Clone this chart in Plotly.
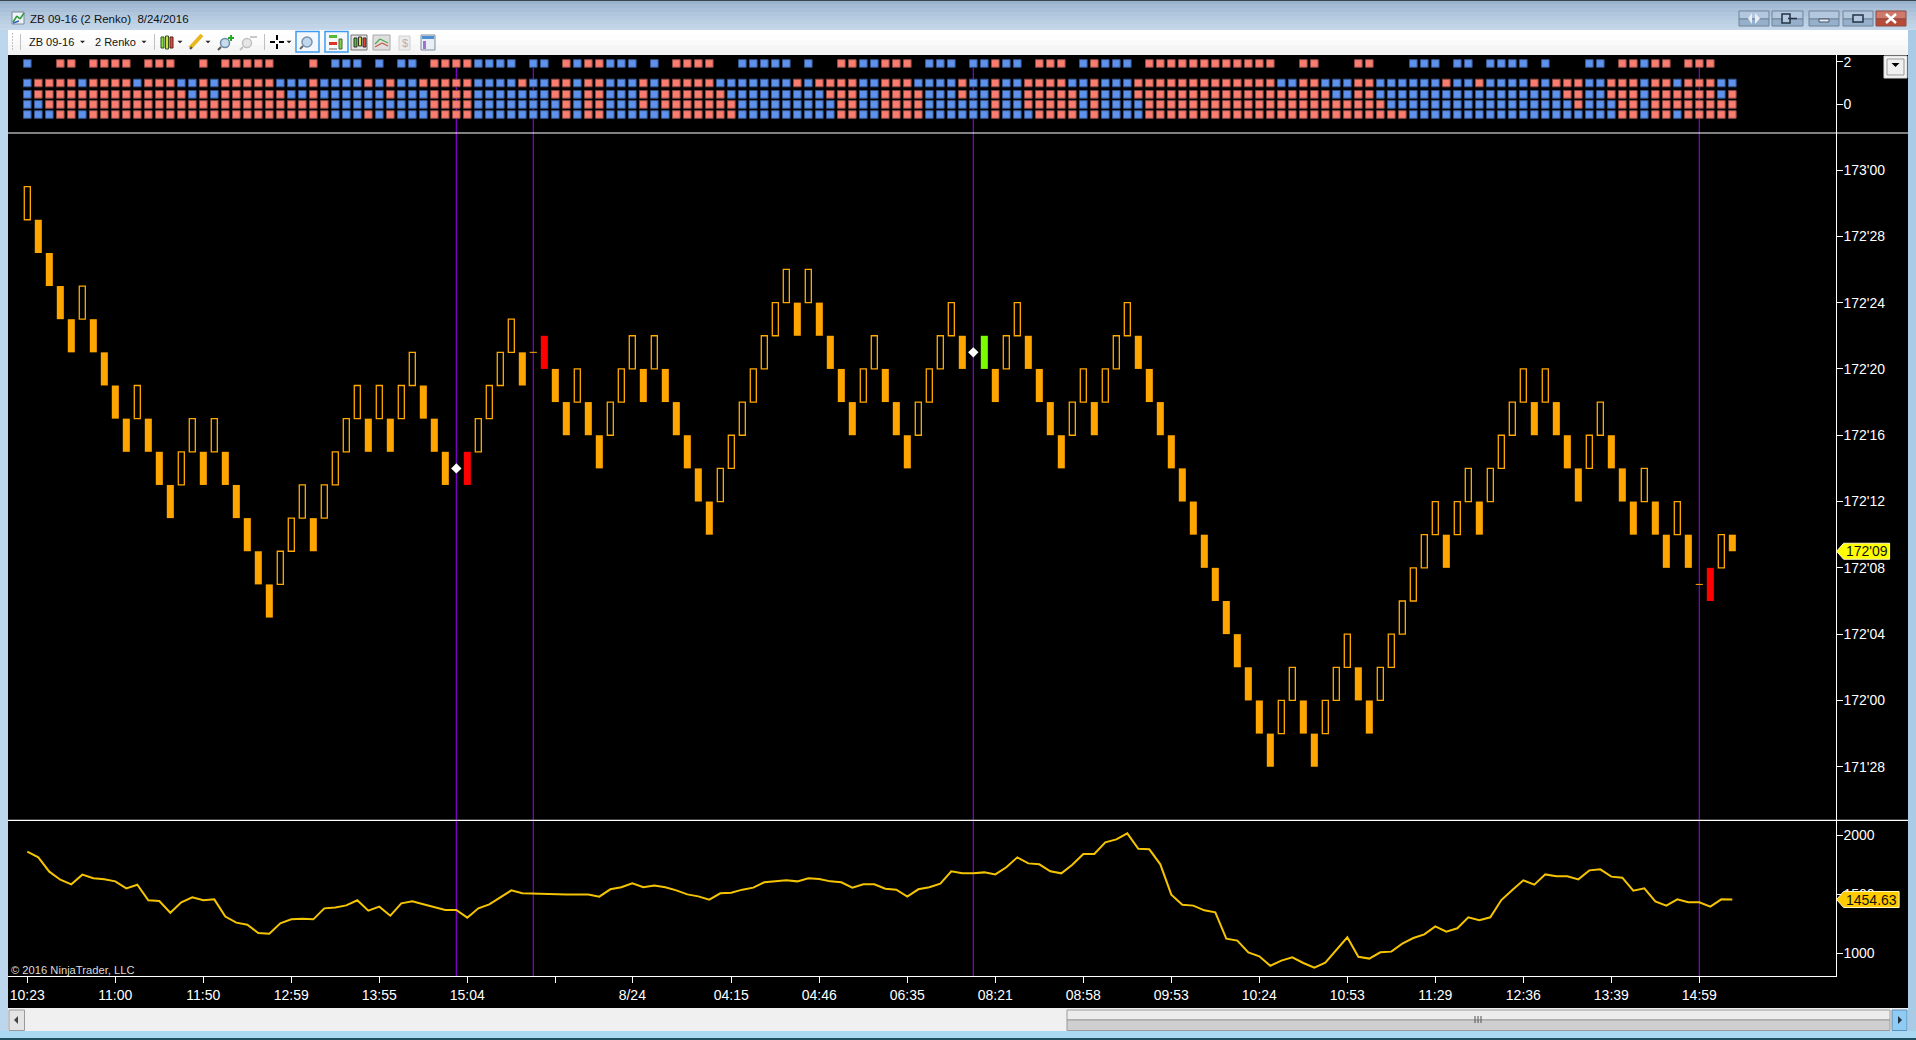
#imports
import plotly.graph_objects as go
from plotly.subplots import make_subplots

W = 1916
H = 1040
FONT = "Liberation Sans"

# bar numbers along the time axis
bars = list(range(156))

# renko bars, in 32nds below 173'00 (top and bottom of each body)
bar_top = [1, 3, 5, 7, 9, 7, 9, 11, 13, 15, 13, 15, 17, 19, 17, 15, 17, 15, 17, 19,
           21, 23, 25, 23, 21, 19, 21, 19, 17, 15, 13, 15, 13, 15, 13, 11, 13, 15, 17, 18,
           17, 15, 13, 11, 9, 11, 11, 10, 12, 14, 12, 14, 16, 14, 12, 10, 12, 10, 12, 14,
           16, 18, 20, 18, 16, 14, 12, 10, 8, 6, 8, 6, 8, 10, 12, 14, 12, 10, 12, 14,
           16, 14, 12, 10, 8, 10, 11, 10, 12, 10, 8, 10, 12, 14, 16, 14, 12, 14, 12, 10,
           8, 10, 12, 14, 16, 18, 20, 22, 24, 26, 28, 30, 32, 34, 32, 30, 32, 34, 32, 30,
           28, 30, 32, 30, 28, 26, 24, 22, 20, 22, 20, 18, 20, 18, 16, 14, 12, 14, 12, 14,
           16, 18, 16, 14, 16, 18, 20, 18, 20, 22, 20, 22, 25, 24, 22, 22]
bar_bottom = [3, 5, 7, 9, 11, 9, 11, 13, 15, 17, 15, 17, 19, 21, 19, 17, 19, 17, 19, 21,
              23, 25, 27, 25, 23, 21, 23, 21, 19, 17, 15, 17, 15, 17, 15, 13, 15, 17, 19, 18,
              19, 17, 15, 13, 11, 13, 11, 12, 14, 16, 14, 16, 18, 16, 14, 12, 14, 12, 14, 16,
              18, 20, 22, 20, 18, 16, 14, 12, 10, 8, 10, 8, 10, 12, 14, 16, 14, 12, 14, 16,
              18, 16, 14, 12, 10, 12, 11, 12, 14, 12, 10, 12, 14, 16, 18, 16, 14, 16, 14, 12,
              10, 12, 14, 16, 18, 20, 22, 24, 26, 28, 30, 32, 34, 36, 34, 32, 34, 36, 34, 32,
              30, 32, 34, 32, 30, 28, 26, 24, 22, 24, 22, 20, 22, 20, 18, 16, 14, 16, 14, 16,
              18, 20, 18, 16, 18, 20, 22, 20, 22, 24, 22, 24, 25, 26, 24, 23]
# h hollow, f filled, r red, g green, d doji dash, w doji with white diamond
bar_kind = ("hffffhffffhfffhhfhfffffhhhfhhhhfhfhhfff" "wrhhhhfdr"
            "ffhffhhhfhfffffhhhhhhhfhffffhhfffhhhhf" "wg"
            "fhhffffhhfhhhfffffffffffff" "hhffhhhffhhhhhhfhhfhhhhfhfffhhfffhffhf" "drhf")

# rows of the top strip: r red square, b blue square, space = nothing
row_values = [1.93, 1.0, 0.46, -0.02, -0.5]
row_a = ("b  rr rrrr rrr  r rrrrr   r b" "bb b bb rrrrbbbb bb rbrrbbb b"
         " rrrr  bbbbb b  rrbbrrr bbb bbrbb rrr brbbb "
         "rrrrrrrrrrrr  rr   rr   bbb bb bbbb b   bb rrbrr rrr  ")
row_b = ("brrrrbrrrrbrrrbbrbrrrrrbbbrbb" "bbrbrbbrrrrrbbbbrbbrrbrrbbbrb"
         "rrrrrbbbbbbbrbrrrrbbrrrbbbbrbbrbbrrrrbbrbbbr"
         "rrrrrrrrrrrrbbrrbbbrrbbbbbbrbbrbbbbrbrrrbbrrrbrrbrrrbb")
row_c = ("brrrrrrrrrrrrrrbrbrrrrrrbbrbb" "bbbbrbbbrrrrbbbbbbbrrbrrbbbrb"
         "rrrrrrbbbbbbbbbrrrbbrrrrbbbrbbrbbrrrrrbrbbbr"
         "rrrrrrrrrrrrrrrrrbbrrbbbbbbbbbbbbbbbbbrrbbrrrbrrrrrrbr")
row_d = ("bbrrrrrrrrrrrrrrrrrrrrrrrrrrb" "bbbbbbbbrrrrbbbbbbbbrbrrbbbrb"
         "rrrrrrrbbbbbbbbbrrbbrrrrbbbbbbrbbrrrrrbrbbbb"
         "rrrrrrrrrrrrrrrrrrrrrrbbbbbbbbbbbbbbbbbrbbbrrbrrrrrrrr")
row_e = ("bbbrrbrrrrrrrrrrrrrrrrrrrrrrb" "bbrbrbbbrrrrbbbbbbbbrbrrbbbbb"
         "brrrrrrbbbbbbbbbrrbbrrrrbbbbbbrbbbrrrrbrbbbb"
         "rrrrrrrrrrrrrrrrrrrrrrrrbbbbbbbbbbbbbbbbbbbrrbrrbrrrrr")
rows = [row_a, row_b, row_c, row_d, row_e]

# indicator line, one value a bar
volume_line = [1859, 1811, 1690, 1622, 1583, 1665, 1634, 1625, 1608, 1549, 1580, 1448, 1442, 1343, 1431, 1473,
               1448, 1456, 1310, 1259, 1242, 1171, 1166, 1253, 1287, 1293, 1287, 1380, 1388, 1405, 1448, 1360,
               1394, 1318, 1422, 1439, 1414, 1388, 1366, 1366, 1301, 1380, 1414, 1473, 1532, 1507, 1504, 1496,
               1496, 1496, 1496, 1496, 1479, 1541, 1558, 1591, 1558, 1572, 1558, 1532, 1498, 1481, 1453, 1507,
               1512, 1538, 1555, 1600, 1608, 1617, 1608, 1634, 1628, 1608, 1600, 1555, 1583, 1583, 1546, 1538,
               1479, 1541, 1558, 1589, 1693, 1676, 1676, 1684, 1667, 1727, 1811, 1760, 1752, 1693, 1676, 1749,
               1839, 1839, 1938, 1963, 2014, 1884, 1879, 1752, 1496, 1411, 1403, 1363, 1346, 1124, 1107, 1008,
               974, 895, 938, 966, 918, 878, 921, 1028, 1135, 971, 955, 1008, 1014, 1081, 1129, 1160,
               1228, 1183, 1211, 1304, 1279, 1304, 1450, 1535, 1617, 1580, 1667, 1651, 1651, 1625, 1701, 1710,
               1648, 1639, 1529, 1549, 1439, 1403, 1456, 1431, 1431, 1394, 1456, 1454.63]

# axis ticks
time_ticks = [0, 8, 16, 24, 32, 40, 48, 55, 64, 72, 80, 88, 96, 104, 112, 120, 128, 136, 144, 152]
time_labels = ["10:23", "11:00", "11:50", "12:59", "13:55", "15:04", "", "8/24", "04:15", "04:46",
               "06:35", "08:21", "08:58", "09:53", "10:24", "10:53", "11:29", "12:36", "13:39", "14:59"]
price_ticks = [0, 4, 8, 12, 16, 20, 24, 28, 32, 36]
price_labels = ["173'00", "172'28", "172'24", "172'20", "172'16", "172'12", "172'08", "172'04", "172'00", "171'28"]
session_bars = [39, 46, 86, 152]


def px(x):
    return x / W


def py(y):
    return 1 - y / H


def to_price(off):
    return 5536 - off


shapes = []
notes = []


def rect(x0, y0, x1, y1, fill, line=None, width=1, layer="below"):
    shapes.append(dict(type="rect", xref="paper", yref="paper", x0=px(x0), x1=px(x1), y0=py(y0), y1=py(y1),
                       fillcolor=fill, line=dict(color=line or fill, width=width if line else 0), layer=layer))


def seg(x0, y0, x1, y1, color, width=1, layer="below"):
    shapes.append(dict(type="line", xref="paper", yref="paper", x0=px(x0), x1=px(x1), y0=py(y0), y1=py(y1),
                       line=dict(color=color, width=width), layer=layer))


def tri(x, y, s=3, color="#222222"):
    path = f"M {px(x - s)} {py(y - s / 2)} L {px(x + s)} {py(y - s / 2)} L {px(x)} {py(y + s / 2)} Z"
    shapes.append(dict(type="path", xref="paper", yref="paper", path=path, fillcolor=color,
                       line=dict(width=0), layer="below"))


def poly(points, color):
    path = "M " + " L ".join(f"{px(a)} {py(b)}" for a, b in points) + " Z"
    shapes.append(dict(type="path", xref="paper", yref="paper", path=path, fillcolor=color,
                       line=dict(width=0), layer="below"))


def circle(x, y, r, color, fill="rgba(0,0,0,0)", width=1.5):
    shapes.append(dict(type="circle", xref="paper", yref="paper", x0=px(x - r), x1=px(x + r), y0=py(y - r),
                       y1=py(y + r), line=dict(color=color, width=width), fillcolor=fill, layer="below"))


def text(x, y, s, size=12, color="#111111", anchor="left"):
    notes.append(dict(xref="paper", yref="paper", x=px(x), y=py(y), text=s, showarrow=False, xanchor=anchor,
                      yanchor="middle", font=dict(family=FONT, size=size, color=color)))


# window frame
title_colors = ["#9ab3cd", "#a2bad3", "#a9c0d8", "#b0c6dc", "#b6cbe0", "#bcd0e4", "#c1d4e7", "#c5d7e9"]
for n, c in enumerate(title_colors):
    rect(0, n * 4, W, n * 4 + 4, c)
seg(0, 0.5, W, 0.5, "#3a4450", 1)
rect(0, 30, 8, 1040, "#bcd6ee")
rect(1908, 30, W, 1040, "#a9cbe6")
rect(0, 1031, W, 1040, "#a8d8f2")
seg(0, 1039, W, 1039, "#20505f", 2)
# toolbar
for n, c in enumerate(["#ffffff", "#fdfdfd", "#fafafa", "#f6f6f6", "#f2f2f2"]):
    rect(8, 30 + n * 5, 1908, 35 + n * 5, c)
# chart background and scrollbar
rect(8, 55, 1908, 1008, "#000000")
rect(8, 1008, 1908, 1031, "#f0f0f0")
rect(9, 1010, 24.5, 1030.5, "#e4e4e4", "#9a9a9a")
poly([(18, 1016), (18, 1024), (14, 1020)], "#444444")
rect(1067, 1010, 1890, 1020, "#ececec", "#9a9a9a")
rect(1067, 1020, 1890, 1030.5, "#cfcfcf", "#9a9a9a")
for gx in [1475, 1478, 1481]:
    seg(gx, 1016, gx, 1023, "#555555", 1)
rect(1892, 1010, 1907, 1030.5, "#8fcbf2", "#5a90b8")
poly([(1898, 1016), (1898, 1024), (1902, 1020)], "#223344")
# drop down box on the chart corner
rect(1884, 56, 1907, 78, "#f4f4f4", "#d8d8d8")
rect(1887, 59, 1904, 75, "#f0f0f0", "#999999")
tri(1895.5, 65, 4, "#000000")

# window buttons
for bx0, bx1 in [(1739, 1769), (1772, 1803), (1809, 1839), (1843, 1873)]:
    rect(bx0, 11, bx1, 19, "#b3c8de", "#6f8298")
    rect(bx0, 19, bx1, 26, "#96b0cc", "#6f8298")
rect(1876, 11, 1906, 19, "#d0796a", "#8a4a44")
rect(1876, 19, 1906, 26, "#b84a38", "#8a4a44")
seg(1886, 14, 1896, 23, "#ffffff", 2.5)
seg(1896, 14, 1886, 23, "#ffffff", 2.5)
rect(1819, 19, 1829, 22, "#e8eef4", "#445566")
rect(1853, 15, 1863, 22, "#b3c8de", "#223344", 1.5)
rect(1782, 14, 1790, 23, "#b3c8de", "#223344", 1.5)
seg(1788, 18.5, 1797, 18.5, "#223344", 1.5)
poly([(1752, 13), (1752, 24), (1748, 18.5)], "#e8eef4")
poly([(1755, 13), (1755, 24), (1760, 18.5)], "#e8eef4")

# title icon
rect(12, 12, 24, 24, "#eef4f8", "#7a8a99")
seg(13, 22, 17, 16, "#2f9a3a", 1.5)
seg(17, 16, 20, 19, "#2f9a3a", 1.5)
seg(20, 19, 24, 13, "#2f9a3a", 1.5)
seg(13, 23, 19, 21, "#3060c0", 1.5)
text(27.5, 19, "ZB 09-16 (2 Renko)  8/24/2016", 11.5)

# toolbar content
for gy in range(34, 52, 3):
    seg(12, gy, 13, gy, "#b0b0b0", 1.5)
seg(20.5, 34, 20.5, 50, "#c0c0c0")
text(26.5, 42, "ZB 09-16", 11)
tri(82.5, 42, 2.5)
text(92.5, 42, "2 Renko", 11)
tri(144, 42, 2.5)
seg(154.5, 34, 154.5, 50, "#c0c0c0")
rect(161, 37, 164, 48, "#7fdc3a", "#335522")
rect(165.5, 36, 168.5, 49, "#c8e23a", "#335522")
rect(170, 37, 173, 48, "#e84a3a", "#552222")
tri(180, 42, 2.5)
seg(190, 48, 202, 35, "#e8b820", 4)
seg(190, 49, 192, 47, "#555555", 2)
tri(208, 42, 2.5)
circle(225, 43, 4.5, "#6a8aaa", "#c8dcec")
seg(221, 47, 218, 50, "#555555", 2)
seg(231, 35, 231, 41, "#22aa22", 2)
seg(228, 38, 234, 38, "#22aa22", 2)
circle(247, 43, 4.5, "#c0c0c0", "#e6e6e6")
seg(243, 47, 240, 50, "#c0c0c0", 2)
seg(250, 37, 257, 37, "#c8c8c8", 2)
seg(264.5, 34, 264.5, 50, "#c0c0c0")
for a in [(270, 42, 275, 42), (279, 42, 284, 42), (277, 35, 277, 40), (277, 44, 277, 49)]:
    seg(*a, "#000000", 2)
tri(289, 42, 2.5)
rect(296, 31.5, 319, 52, "#f4f8fc", "#3e9cf0", 1.5)
circle(307, 42, 5, "#7a94b0", "#c0d8ee")
seg(303, 46, 300, 49, "#666666", 2)
rect(325, 31.5, 348, 52, "#f4f8fc", "#3e9cf0", 1.5)
rect(329, 35, 337, 38, "#55bb33")
rect(329, 42, 337, 45, "#dd3322")
rect(339, 39, 342, 49, "#88cc44", "#446633")
seg(329, 49, 337, 49, "#666666")
rect(351, 35, 367, 50, "#e4e4e4", "#777777")
rect(354, 38, 357, 47, "#55bb33", "#333333")
rect(358.5, 37, 361.5, 46, "#dddd44", "#333333")
rect(363, 38, 366, 47, "#dd4433", "#333333")
rect(373, 35, 390, 50, "#dedede", "#a8a8a8")
seg(375, 44, 380, 39, "#44aa44", 1.2)
seg(380, 39, 388, 43, "#44aa44", 1.2)
seg(375, 47, 382, 43, "#cc5544", 1.2)
seg(382, 43, 388, 46, "#cc5544", 1.2)
rect(399, 36, 410, 50, "#ececec", "#d0d0d0")
text(404.5, 43, "$", 11, "#b0b0b0", "center")
rect(421, 35, 435, 50, "#e8eef4", "#7c8c9c")
rect(422, 36, 434, 39, "#4a90d0")
rect(423, 41, 426, 49, "#a070d8")

# separators of the three panels
seg(8, 133, 1908, 133, "#ffffff", 1.2, "above")
seg(8, 820.3, 1908, 820.3, "#ffffff", 1.2, "above")
text(9, 970, "© 2016 NinjaTrader, LLC", 11.2, "#dcdcdc")

fig = make_subplots(rows=3, cols=1, shared_xaxes=True, vertical_spacing=0)

# session lines, drawn behind everything in the panels
for b in session_bars:
    shapes.append(dict(type="line", xref="x", yref="paper", x0=b, x1=b, y0=py(68), y1=py(976),
                       line=dict(color="#8800d8", width=1.2), layer="below"))

# top strip
sq_colors = {"r": ("#fb7d70", "#8d4a45"), "b": ("#5e92ec", "#35568f")}
for val, row in zip(row_values, rows):
    for kind in "rb":
        xs = [b for b, ch in zip(bars, row) if ch == kind]
        fig.add_trace(go.Scatter(x=xs, y=[val] * len(xs), mode="markers", hoverinfo="skip",
                                 marker=dict(symbol="square", size=7.6, color=sq_colors[kind][0],
                                             line=dict(color=sq_colors[kind][1], width=1))), row=1, col=1)

# renko bars by kind
bar_colors = {"f": "#ffa500", "r": "#ff0000", "g": "#7cfc00"}
for kind, col in bar_colors.items():
    ids = [b for b in bars if bar_kind[b] == kind]
    fig.add_trace(go.Bar(x=ids, y=[bar_bottom[b] - bar_top[b] for b in ids],
                         base=[to_price(bar_bottom[b]) for b in ids], width=0.64, hoverinfo="skip",
                         marker=dict(color=col, line=dict(width=0))), row=2, col=1)
ids = [b for b in bars if bar_kind[b] == "h"]
fig.add_trace(go.Bar(x=ids, y=[bar_bottom[b] - bar_top[b] for b in ids],
                     base=[to_price(bar_bottom[b]) for b in ids], width=0.55, hoverinfo="skip",
                     marker=dict(color="rgba(0,0,0,0)", line=dict(color="#ffa800", width=1.3))), row=2, col=1)
ids = [b for b in bars if bar_kind[b] in "dw"]
fig.add_trace(go.Scatter(x=ids, y=[to_price(bar_top[b]) for b in ids], mode="markers", hoverinfo="skip",
                         marker=dict(symbol="line-ew", size=5.2, line=dict(color="#ffa500", width=1))), row=2, col=1)
ids = [b for b in bars if bar_kind[b] == "w"]
fig.add_trace(go.Scatter(x=ids, y=[to_price(bar_top[b]) for b in ids], mode="markers", hoverinfo="skip",
                         marker=dict(symbol="diamond", size=8, color="#ffffff")), row=2, col=1)

# indicator
fig.add_trace(go.Scatter(x=bars, y=volume_line, mode="lines", hoverinfo="skip",
                         line=dict(color="#f5c400", width=2)), row=3, col=1)

# price flags on the right axis
for yref, val, wid, col, label in [("y2", to_price(23), 53, "#ffff00", "172'09"),
                                   ("y3", volume_line[-1], 62.5, "#ffcc00", "1454.63")]:
    shapes.append(dict(type="path", xref="paper", yref=yref, xsizemode="pixel", ysizemode="pixel",
                       xanchor=px(1836.6), yanchor=val, fillcolor=col, layer="above", line=dict(color="#fff8c0", width=1),
                       path=f"M 0 0 L 7 8 L {wid} 8 L {wid} -8 L 7 -8 Z"))
    notes.append(dict(xref="paper", yref=yref, x=px(1836.6 + wid / 2 + 3.5), y=val, text=label, showarrow=False,
                      xanchor="center", yanchor="middle", font=dict(family=FONT, size=14, color="#111111")))

fig.update_xaxes(range=[-1.755, 164.38], showgrid=False, zeroline=False, showticklabels=False, ticks="")
fig.update_xaxes(row=3, col=1, showticklabels=True, ticks="outside", ticklen=6, tickcolor="#ffffff", tickwidth=1,
                 tickmode="array", tickvals=time_ticks, ticktext=time_labels, tickangle=0, showline=True,
                 linecolor="#ffffff", linewidth=1.2, tickfont=dict(family=FONT, size=14, color="#ffffff"))

axis_style = dict(side="right", showgrid=False, zeroline=False, showline=True, linecolor="#ffffff", linewidth=1.2,
                  ticks="outside", ticklen=6, tickcolor="#ffffff", tickwidth=1, tickmode="array", ticklabelstandoff=-2,
                  tickfont=dict(family=FONT, size=14, color="#ffffff"))
fig.update_yaxes(row=1, col=1, domain=[py(133), py(55)], range=[-1.381, 2.333], tickvals=[0, 2], ticktext=["0", "2"],
                 **axis_style)
fig.update_yaxes(row=2, col=1, domain=[py(820.3), py(133)], range=[to_price(39.23), to_price(-2.232)],
                 tickvals=[to_price(t) for t in price_ticks], ticktext=price_labels, **axis_style)
fig.update_yaxes(row=3, col=1, domain=[py(976), py(820.3)], range=[808, 2124.3], tickvals=[1000, 1500, 2000],
                 ticktext=["1000", "1500", "2000"], **axis_style)

fig.update_layout(width=W, height=H, margin=dict(l=0, r=0, t=0, b=0), autosize=False, showlegend=False,
                  paper_bgcolor="#bcd6ee", plot_bgcolor="rgba(0,0,0,0)", barmode="overlay", hovermode=False,
                  shapes=shapes, annotations=notes)
fig.update_xaxes(domain=[px(8), px(1835.5)])

fig.write_html("out.html", config={"displayModeBar": False},
               post_script="document.body.style.margin='0';document.body.style.overflow='hidden';")
